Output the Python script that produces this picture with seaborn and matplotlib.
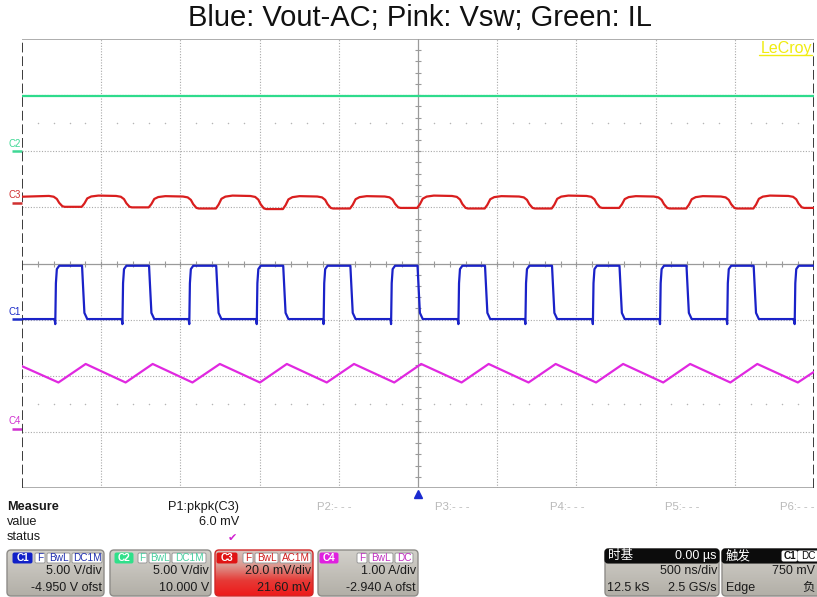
import numpy as np
import pandas as pd
import matplotlib
matplotlib.use("Agg")
import matplotlib.pyplot as plt
import seaborn as sns
from matplotlib.patches import FancyBboxPatch
from matplotlib.colors import LinearSegmentedColormap

sns.set_style("white")
plt.rcParams['font.family'] = ['Liberation Sans', 'Noto Sans CJK SC', 'DejaVu Sans']

# ---------------- data (time in µs, trace position in screen divisions) ----------------
title = "Blue: Vout-AC; Pink: Vsw; Green: IL"

# C1 (blue) square wave: edge times
blue_rise_us = [-2.290, -1.866, -1.444, -1.018, -0.596, -0.170, 0.255, 0.678, 1.104, 1.528, 1.952, 2.378]
blue_fall_us = [-2.118, -1.695, -1.271, -0.848, -0.424, 0.000, 0.426, 0.849, 1.275, 1.698, 2.122]
blue_low_div = -0.99
blue_high_div = -0.04
# edge shapes (time offset from edge, level)
blue_rise_dt = [-0.004, 0.000, 0.004, 0.010, 0.025]
blue_rise_lv = [-0.99, -1.08, -0.35, -0.10, -0.04]
blue_fall_dt = [-0.003, 0.006, 0.012, 0.030]
blue_fall_lv = [-0.04, -0.55, -0.88, -0.99]

# C3 (red) ripple: plateau levels per cycle
red_high_div = [1.21, 1.21, 1.20, 1.21, 1.20, 1.20, 1.21, 1.20, 1.21, 1.20, 1.20, 1.21]
red_low_div = [1.01, 1.00, 0.98, 0.97, 0.98, 0.99, 0.98, 0.98, 0.99, 0.98, 0.98, 0.99]
# red rises after each blue fall, falls after each blue rise (fraction of swing above low)
red_up_dt = [-0.005, 0.012, 0.030, 0.055, 0.100]
red_up_fr = [0.00, 0.30, 0.75, 0.92, 1.00]
red_down_dt = [-0.040, -0.010, 0.010, 0.025, 0.045, 0.060]
red_down_fr = [0.97, 0.90, 0.70, 0.35, 0.05, 0.00]

# C4 (pink) triangle vertices
pink_t_us = [-2.5, -2.270, -2.098, -1.846, -1.675, -1.424, -1.251, -0.998, -0.828, -0.576,
             -0.404, -0.150, 0.020, 0.275, 0.446, 0.698, 0.869, 1.124, 1.295, 1.548,
             1.718, 1.972, 2.142, 2.398, 2.5]
pink_div = [-1.83, -2.12, -1.79, -2.12, -1.79, -2.12, -1.79, -2.12, -1.79, -2.12,
            -1.79, -2.12, -1.79, -2.12, -1.79, -2.12, -1.79, -2.12, -1.79, -2.12,
            -1.79, -2.12, -1.79, -2.12, -1.93]

# C2 (green) flat
green_t_us = [-2.5, -1.25, 0.0, 1.25, 2.5]
green_div = [2.98, 2.98, 2.98, 2.98, 2.98]

# channel panel texts
ch_names = ["C1", "C2", "C3", "C4"]
ch_couplings = [["F", "BwL", "DC1M"], ["F", "BwL", "DC1M"], ["F", "BwL", "AC1M"], ["F", "BwL", "DC"]]
ch_scale = ["5.00 V/div", "5.00 V/div", "20.0 mV/div", "1.00 A/div"]
ch_offset = ["-4.950 V ofst", "10.000 V", "21.60 mV", "-2.940 A ofst"]
ch_offset_div = [-0.99, 2.00, 1.08, -2.94]
param_labels = ["P2:- - -", "P3:- - -", "P4:- - -", "P5:- - -", "P6:- - -"]

# ---------------- build trace polylines from the edge data ----------------
bt, bv = [-2.5], [blue_low_div]
for i, r in enumerate(blue_rise_us):
    bt += [r + d for d in blue_rise_dt]
    bv += list(blue_rise_lv)
    if i < len(blue_fall_us):
        f = blue_fall_us[i]
        bt += [f + d for d in blue_fall_dt]
        bv += list(blue_fall_lv)
bt.append(2.5)
bv.append(blue_high_div)

rt, rv = [-2.5], [red_high_div[0] - 0.02]
for i, r in enumerate(blue_rise_us):
    hi, lo = red_high_div[i], red_low_div[i]
    rt += [r + d for d in red_down_dt]
    rv += [lo + (hi - lo) * fr for fr in red_down_fr]
    if i < len(blue_fall_us):
        f = blue_fall_us[i]
        hi2 = red_high_div[i + 1]
        rt += [f + d for d in red_up_dt]
        rv += [lo + (hi2 - lo) * fr for fr in red_up_fr]
rt.append(2.5)
rv.append(red_low_div[-1])

traces = {
    "C2": (pd.DataFrame({"t": green_t_us, "v": green_div}), "#2edb8c"),
    "C3": (pd.DataFrame({"t": rt, "v": rv}), "#d91e1e"),
    "C1": (pd.DataFrame({"t": bt, "v": bv}), "#1a22c8"),
    "C4": (pd.DataFrame({"t": pink_t_us, "v": pink_div}), "#e028e0"),
}
label_colors = {"C1": "#1a2ac8", "C2": "#3fd895", "C3": "#d03030", "C4": "#d030d0"}

# ---------------- figure ----------------
W, H = 817, 597
fig = plt.figure(figsize=(W / 100, H / 100), dpi=100)
fig.patch.set_facecolor("white")

ax_bg = fig.add_axes([0, 0, 1, 1], zorder=0)
ax_bg.set_facecolor("white")

X0, X1, Y0, Y1 = 22, 814, 39, 488
ax = fig.add_axes([X0 / W, (H - Y1) / H, (X1 - X0) / W, (Y1 - Y0) / H], zorder=2)
ax.set_facecolor("none")
ax.set_xlim(-2.5, 2.5)
ax.set_ylim(-4, 4)
for s in ax.spines.values():
    s.set_visible(False)
ax.set_xticks([]); ax.set_yticks([])

# grid
gcol = "#a9a9a9"
for k in range(1, 10):
    t = -2.5 + 0.5 * k
    if k == 5:
        ax.axvline(t, color="#9a9a9a", lw=0.9, zorder=1)
    else:
        ax.axvline(t, color=gcol, lw=0.8, ls=(0, (1, 1.5)), zorder=1)
for k in range(1, 8):
    y = -4 + k
    if k == 4:
        ax.axhline(y, color="#9a9a9a", lw=0.9, zorder=1)
    else:
        ax.axhline(y, color=gcol, lw=0.8, ls=(0, (1, 1.5)), zorder=1)
ax.axhline(4, color="#a0a0a0", lw=1.2, zorder=1)
ax.axhline(-4, color="#a0a0a0", lw=1.2, zorder=1)
ax.axvline(-2.5, color="#3a3a3a", lw=1.4, ls=(0, (5, 2)), zorder=1)
ax.axvline(2.5, color="#3a3a3a", lw=1.4, ls=(0, (5, 2)), zorder=1)

minor_t = np.round(np.arange(-2.4, 2.45, 0.1), 3)
ax.scatter(minor_t, np.zeros_like(minor_t), marker="|", s=18, color="#9a9a9a", lw=0.8, zorder=1)
minor_y = np.round(np.arange(-3.8, 3.85, 0.2), 3)
ax.scatter(np.zeros_like(minor_y), minor_y, marker="_", s=18, color="#9a9a9a", lw=0.8, zorder=1)
dot_t = np.array([t for t in minor_t if abs(t * 2 - round(t * 2)) > 1e-6])
for yy in (2.5, -2.5):
    ax.scatter(dot_t, np.full_like(dot_t, yy), marker="o", s=1.2, color="#b5b5b5", lw=0, zorder=1)

# traces
for name, (df, col) in traces.items():
    sns.lineplot(data=df, x="t", y="v", ax=ax, color=col, linewidth=1.6,
                 sort=False, estimator=None, zorder=3)
ax.set_xlabel(""); ax.set_ylabel("")

# ---------------- overlay (pixel coordinates) ----------------
ax_bg.set_xlim(0, W)
ax_bg.set_ylim(H, 0)
ax_bg.axis("off")

def ypix(div):
    return (Y0 + Y1) / 2 - div * (Y1 - Y0) / 8

fig.text(420 / W, 1 - 18 / H, title, ha="center", va="center", fontsize=21, color="#111111")
ax_bg.text(812, 48, "LeCroy", ha="right", va="center", fontsize=11.5, color="#f0ec10", zorder=5)
ax_bg.plot([759, 812], [55, 55], color="#f0ec10", lw=1, zorder=5)

for i, name in enumerate(ch_names):
    yp = ypix(ch_offset_div[i])
    c = label_colors[name]
    ax_bg.plot([12, 22], [yp, yp], color=c, lw=1.8, zorder=5, solid_capstyle="butt")
    ax_bg.text(15, yp - 7.5, name, ha="center", va="center", fontsize=7, color=c, zorder=5)

# trigger arrow
ax_bg.plot([418.5], [493.5], marker="^", markersize=6, color="#1a2ad0", zorder=5)

# measure area
fs = 9.2
ax_bg.text(7, 507, "Measure", ha="left", va="center", fontsize=fs, fontweight="bold", color="#1a1a1a")
ax_bg.text(7, 522, "value", ha="left", va="center", fontsize=fs, color="#1a1a1a")
ax_bg.text(7, 537, "status", ha="left", va="center", fontsize=fs, color="#1a1a1a")
ax_bg.text(239, 507, "P1:pkpk(C3)", ha="right", va="center", fontsize=fs, color="#1a1a1a")
ax_bg.text(239, 522, "6.0 mV", ha="right", va="center", fontsize=fs, color="#1a1a1a")
ax_bg.text(232, 538, "\u2714", ha="center", va="center", fontsize=8, color="#d020d0",
           family=["DejaVu Sans"])
for lab, xp in zip(param_labels, [317, 435, 550, 665, 780]):
    ax_bg.text(xp, 507, lab, ha="left", va="center", fontsize=8.2, color="#b9b9b9")


def panel(x0, x1, y0, y1, cols, edge):
    patch = FancyBboxPatch((x0, y0), x1 - x0, y1 - y0, boxstyle="round,pad=0,rounding_size=4",
                           fc="none", ec=edge, lw=1.0, zorder=3)
    ax_bg.add_patch(patch)
    grad = np.linspace(0, 1, 64)[:, None]
    cmap = LinearSegmentedColormap.from_list("g", cols)
    im = ax_bg.imshow(grad, extent=(x0, x1, y1, y0), cmap=cmap, aspect="auto", zorder=2,
                      interpolation="bilinear")
    im.set_clip_path(patch)


def tag(x0, x1, text, fc, tc, ec, y0=553, y1=563, bold=False):
    ax_bg.add_patch(FancyBboxPatch((x0, y0), x1 - x0, y1 - y0, boxstyle="round,pad=0,rounding_size=1.5",
                                   fc=fc, ec=ec, lw=0.7, zorder=4))
    ax_bg.text((x0 + x1) / 2, (y0 + y1) / 2 + 0.3, text, ha="center", va="center", fontsize=7.2,
               color=tc, zorder=5, fontweight="bold" if bold else "normal")

gray_cols = ["#d2d0ca", "#c2bfb8", "#b2afa7"]
boxes = [(7, 104), (110, 211), (215, 313), (318, 418)]
tag_main = {"C1": (13, 32), "C2": (115, 133), "C3": (217, 237), "C4": (320, 338)}
tag_pos = [[(35, 45), (47, 70), (72, 102)],
           [(138, 147), (149, 170), (172, 206)],
           [(243, 253), (255, 278), (280, 311)],
           [(357, 367), (369, 393), (395, 413)]]
tag_col = {"C1": "#1020c8", "C2": "#30e08a", "C3": "#e01414", "C4": "#e020e0"}
text_col = {"C1": "#2030b0", "C2": "#48d0a0", "C3": "#d02020", "C4": "#c030c0"}

for i, name in enumerate(ch_names):
    x0, x1 = boxes[i]
    if name == "C3":
        panel(x0, x1, 550, 596, ["#d8c4be", "#dc9890", "#e63a36", "#ee1a1a"], "#d02828")
    else:
        panel(x0, x1, 550, 596, gray_cols, "#8e8c88")
    a, b = tag_main[name]
    tag(a, b, name, tag_col[name], "white", tag_col[name], bold=True)
    for (a, b), lab in zip(tag_pos[i], ch_couplings[i]):
        tag(a, b, lab, "white", text_col[name], "#9a9a9a")
    ax_bg.text(x1 - 2, 571, ch_scale[i], ha="right", va="center", fontsize=9, color="#1c1c1c", zorder=5)
    ax_bg.text(x1 - 2, 588, ch_offset[i], ha="right", va="center", fontsize=9, color="#1c1c1c", zorder=5)

# timebase and trigger panels
for x0, x1 in [(605, 719), (722, 830)]:
    panel(x0, x1, 549, 596, gray_cols, "#8e8c88")
    ax_bg.add_patch(FancyBboxPatch((x0, 549), x1 - x0, 14, boxstyle="round,pad=0,rounding_size=3",
                                   fc="#0c0c0c", ec="#0c0c0c", lw=0.8, zorder=4))
ax_bg.text(608, 556, "时基", ha="left", va="center", fontsize=9, color="white", zorder=6)
ax_bg.text(717, 556, "0.00 µs", ha="right", va="center", fontsize=9, color="white", zorder=6)
ax_bg.text(717, 571, "500 ns/div", ha="right", va="center", fontsize=9, color="#1c1c1c", zorder=6)
ax_bg.text(607, 588, "12.5 kS", ha="left", va="center", fontsize=9, color="#1c1c1c", zorder=6)
ax_bg.text(717, 588, "2.5 GS/s", ha="right", va="center", fontsize=9, color="#1c1c1c", zorder=6)
ax_bg.text(726, 556, "触发", ha="left", va="center", fontsize=9, color="white", zorder=6)
tag(782, 797, "C1", "white", "#101010", "white", y0=551, y1=561, bold=True)
tag(798, 818, "DC", "white", "#101010", "white", y0=551, y1=561)
ax_bg.text(815, 571, "750 mV", ha="right", va="center", fontsize=9, color="#1c1c1c", zorder=6)
ax_bg.text(726, 588, "Edge", ha="left", va="center", fontsize=9, color="#1c1c1c", zorder=6)
ax_bg.text(815, 588, "负", ha="right", va="center", fontsize=9, color="#1c1c1c", zorder=6)

ax_bg.set_xlim(0, W)
ax_bg.set_ylim(H, 0)

fig.savefig("out.png", dpi=100)
